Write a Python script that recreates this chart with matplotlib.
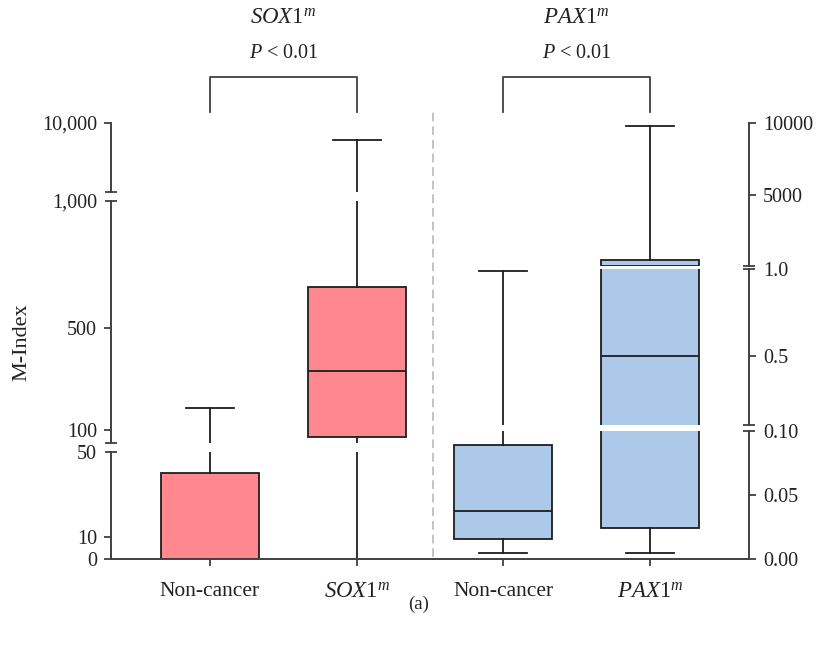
import numpy as np
import matplotlib
matplotlib.use("Agg")
import matplotlib.pyplot as plt
from matplotlib.lines import Line2D
from matplotlib.transforms import blended_transform_factory

plt.rcParams['font.family'] = ['Liberation Serif', 'DejaVu Serif']
plt.rcParams['mathtext.fontset'] = 'custom'
plt.rcParams['mathtext.rm'] = 'Liberation Serif'
plt.rcParams['mathtext.it'] = 'Liberation Serif:italic'
plt.rcParams['mathtext.bf'] = 'Liberation Serif:bold'

# ---- data ---------------------------------------------------------------
sox_categories = ['Non-cancer', r'$\mathit{SOX1}^{m}$']
pax_categories = ['Non-cancer', r'$\mathit{PAX1}^{m}$']
titles = [r'$\mathit{SOX1}^{m}$', r'$\mathit{PAX1}^{m}$']
p_labels = [r'$P$ < 0.01', r'$P$ < 0.01']

# five-number summaries (non-cancer, methylated)
sox_whislo = [0, 0]
sox_q1 = [0, 74]
sox_med = [0, 333]
sox_q3 = [40, 662]
sox_whishi = [187, 7800]

pax_whislo = [0.004, 0.004]
pax_q1 = [0.015, 0.024]
pax_med = [0.037, 0.50]
pax_q3 = [0.089, 420]
pax_whishi = [0.99, 9790]

# broken y-axes: value range of each segment (bottom to top) and its ticks
sox_segments = [(0, 50), (50, 1000), (1000, 10000)]
sox_ticks = [[0, 10, 50], [100, 500, 1000], [10000]]
sox_ticklabels = [['0', '10', '50'], ['100', '500', '1,000'], ['10,000']]
pax_segments = [(0, 0.10), (0.10, 1.0), (1.0, 10000)]
pax_ticks = [[0, 0.05, 0.10], [0.5, 1.0], [5000, 10000]]
pax_ticklabels = [['0.00', '0.05', '0.10'], ['0.5', '1.0'], ['5000', '10000']]

# ---- layout (pixels) ------------------------------------------------------
W, H = 818, 645
sox_rows = [(452, 558.5), (201, 443), (123, 192)]
pax_rows = [(431, 558.5), (269, 425), (123, 266)]
sox_cols = (111, 433)
pax_cols = (433, 749)
step = 147.0
sox_xlim = (1 - 99 / step, 2 + 76 / step)
pax_xlim = (1 - 70 / step, 2 + 99 / step)

EDGE = '#1e1e1e'
AXC = '#404040'
TXT = '#222222'
LW = 1.3
FS = 14.5      # numeric tick labels
FS_CAT = 15.5  # category labels
FS_MATH = 16.5 # gene names
RED = '#FF888E'
BLUE = '#ADC9E9'

fig = plt.figure(figsize=(W / 100, H / 100), dpi=100)


def make_stats(lo, q1, med, q3, hi):
    return [dict(whislo=a, q1=b, med=c, q3=d, whishi=e)
            for a, b, c, d, e in zip(lo, q1, med, q3, hi)]


def prune(parts, lo, hi):
    """Hide box-plot pieces that lie wholly outside one axis segment."""
    for key, artists in parts.items():
        for a in artists:
            if isinstance(a, Line2D):
                ys = np.asarray(a.get_ydata(), float)
            else:
                ys = a.get_path().vertices[:, 1]
            if ys.max() <= lo or ys.min() > hi:
                a.set_visible(False)


def draw_half(stats, segments, ticks, ticklabels, rows, cols, xlim, side,
              face, cat_labels):
    axes = []
    for i, ((lo, hi), tk, tl, (top, bot)) in enumerate(
            zip(segments, ticks, ticklabels, rows)):
        ax = fig.add_axes([cols[0] / W, 1 - bot / H,
                           (cols[1] - cols[0]) / W, (bot - top) / H])
        parts = ax.bxp(stats, positions=[1, 2], widths=0.66, capwidths=0.32,
                       patch_artist=True, showfliers=False,
                       boxprops=dict(facecolor=face, edgecolor=EDGE,
                                     linewidth=LW),
                       medianprops=dict(color=EDGE, linewidth=LW),
                       whiskerprops=dict(color=EDGE, linewidth=LW),
                       capprops=dict(color=EDGE, linewidth=LW))
        prune(parts, lo, hi)
        ax.set_ylim(lo, hi)
        ax.set_xlim(*xlim)
        ax.patch.set_visible(False)
        for s in ax.spines.values():
            s.set_visible(False)
        ax.spines[side].set_visible(True)
        ax.spines[side].set_color(AXC)
        ax.spines[side].set_linewidth(1.4)
        if side == 'right':
            ax.yaxis.tick_right()
        ax.set_yticks(tk, tl)
        ax.tick_params(axis='y', direction='out', length=5, width=1.3,
                       color=AXC, labelsize=FS, pad=5, labelcolor=TXT)
        for t, v in zip(ax.yaxis.get_major_ticks(), tk):
            if i < len(segments) - 1 and v == hi:
                t.tick1line.set_visible(False)
                t.tick2line.set_visible(False)
        if i == 0:
            ax.spines['bottom'].set_visible(True)
            ax.spines['bottom'].set_color(AXC)
            ax.spines['bottom'].set_linewidth(1.4)
            ax.set_xticks([1, 2], cat_labels)
            ax.tick_params(axis='x', direction='out', length=5, width=1.3,
                           color=AXC, labelsize=FS_CAT, pad=12,
                           labelcolor=TXT)
            ax.get_xticklabels()[1].set_fontsize(FS_MATH)
        else:
            ax.set_xticks([])
        axes.append(ax)

    # break marks across the spine at each segment junction
    for i, ax in enumerate(axes):
        pos = ax.get_position()
        xs = pos.x0 if side == 'left' else pos.x1
        ends = []
        if i > 0:
            ends.append(pos.y0)
        if i < len(axes) - 1:
            ends.append(pos.y1)
        for y in ends:
            fig.add_artist(Line2D([xs - 6 / W, xs + 6 / W], [y, y],
                                  transform=fig.transFigure, color=AXC,
                                  lw=1.3, solid_capstyle='butt'))
    return axes


sox_axes = draw_half(make_stats(sox_whislo, sox_q1, sox_med, sox_q3, sox_whishi),
                     sox_segments, sox_ticks, sox_ticklabels, sox_rows,
                     sox_cols, sox_xlim, 'left', RED, sox_categories)
pax_axes = draw_half(make_stats(pax_whislo, pax_q1, pax_med, pax_q3, pax_whishi),
                     pax_segments, pax_ticks, pax_ticklabels, pax_rows,
                     pax_cols, pax_xlim, 'right', BLUE, pax_categories)

# significance brackets and group titles above each half
for ax, title, plab in zip([sox_axes[-1], pax_axes[-1]], titles, p_labels):
    tr = blended_transform_factory(ax.transData, fig.transFigure)
    yb, yt = 1 - 112 / H, 1 - 77 / H
    ax.add_line(Line2D([1, 1, 2, 2], [yb, yt, yt, yb], transform=tr,
                       color=AXC, lw=1.3, clip_on=False))
    ax.text(1.5, 1 - 53 / H, plab, transform=tr, ha='center', va='center',
            fontsize=FS, color=TXT)
    ax.text(1.5, 1 - 18 / H, title, transform=tr, ha='center', va='center',
            fontsize=FS_MATH, color=TXT)

# dashed divider between the two halves
fig.add_artist(Line2D([sox_cols[1] / W] * 2, [1 - 557 / H, 1 - 112 / H],
                      transform=fig.transFigure, color='#c4c4c4', lw=1.4,
                      linestyle=(0, (4.5, 2.5))))

fig.text(22 / W, 1 - 342 / H, 'M-Index', rotation=90, ha='center',
         va='center', fontsize=16, color=TXT)
fig.text(419 / W, 1 - 604 / H, '(a)', ha='center', va='center',
         fontsize=FS - 1, color=TXT)

fig.savefig('out.png', dpi=100)
